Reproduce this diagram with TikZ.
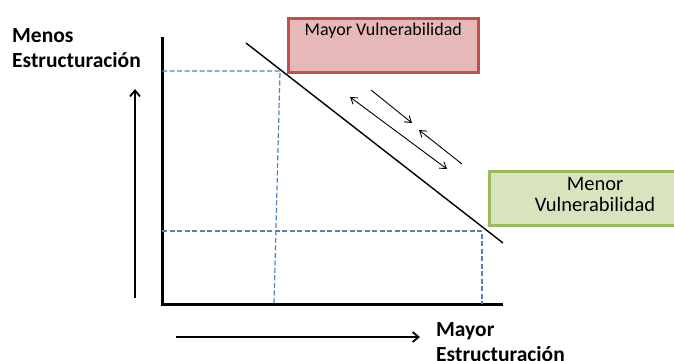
\documentclass[tikz,border=0pt]{standalone}
\usepackage{fontspec}
\setmainfont{Carlito}
\usepackage{tikz}
\usetikzlibrary{arrows.meta, positioning}
\definecolor{vulred}{RGB}{192,80,77}
\definecolor{vulredfill}{RGB}{230,184,183}
\definecolor{vulgreen}{RGB}{155,187,89}
\definecolor{vulgreenfill}{RGB}{215,228,189}
\definecolor{guideblue}{RGB}{79,129,189}

\begin{document}
\begin{tikzpicture}[x=1pt,y=-1pt,
  guide/.style={draw=guideblue, line width=1.2pt, dash pattern=on 5pt off 2.5pt},
  axislabel/.style={font=\fontsize{21.5}{25.6}\selectfont\bfseries, align=left, anchor=north west, inner sep=0pt},
  flow/.style={line width=0.9pt, -{Straight Barb[length=6pt,width=8pt]}},
  vulbox/.style={draw, line width=2.6pt, minimum width=190pt, minimum height=54pt, anchor=north west, inner sep=0pt}]
\useasboundingbox (0,0) rectangle (674,360);

% boxes
\node[vulbox, draw=vulred, fill=vulredfill] (mayorvul) at (287,17) {};
\node[font=\fontsize{18}{22}\selectfont, anchor=north, inner sep=0pt] (mayorvultxt) at ([yshift=-6pt]mayorvul.north) {Mayor Vulnerabilidad};
\node[vulbox, draw=vulgreen, fill=vulgreenfill] (menorvul) at (488,170) {};
\node[font=\fontsize{20.5}{21}\selectfont, align=center, anchor=north, inner sep=0pt] (menorvultxt) at (595,177) {Menor\\Vulnerabilidad};

% axes
\coordinate (origin) at (162,304);
\coordinate (ytop) at (162,37);
\coordinate (xend) at (503,304);
\draw[line width=3pt] (ytop) -- (origin) -- (xend);

% guides
\coordinate (hiY) at (162,71);
\coordinate (hiP) at (280,71);
\coordinate (hiX) at (274,304);
\coordinate (loY) at (162,231);
\coordinate (loP) at (482,231);
\coordinate (loX) at (482,304);
\draw[guide] (hiY) -- (hiP) -- (hiX);
\draw[guide] (loY) -- (loP) -- (loX);

% diagonal
\coordinate (dstart) at (246,43);
\coordinate (dend) at (503,243);
\draw[line width=1.4pt] (dstart) -- (dend);

% flow arrows
\coordinate (fa1) at (371,90);
\coordinate (fa2) at (412,123);
\coordinate (fb1) at (350,97);
\coordinate (fb2) at (447,169);
\coordinate (fc1) at (462,164);
\coordinate (fc2) at (419,130);
\draw[flow] (fa1) -- (fa2);
\draw[flow, {Straight Barb[length=6pt,width=8pt]}-{Straight Barb[length=6pt,width=8pt]}] (fb1) -- (fb2);
\draw[flow] (fc1) -- (fc2);

% direction arrows
\coordinate (up1) at (135,298);
\coordinate (up2) at (135,89);
\coordinate (rt1) at (176,337);
\coordinate (rt2) at (420,337);
\draw[line width=1.8pt, -{Straight Barb[length=6pt,width=10pt]}] (up1) -- (up2);
\draw[line width=1.8pt, -{Straight Barb[length=6pt,width=10pt]}] (rt1) -- (rt2);

% labels
\node[axislabel] (menos) at (12,28) {Menos\\Estructuración};
\node[axislabel] (mayor) at (436,322) {Mayor\\Estructuración};
\end{tikzpicture}
\end{document}
